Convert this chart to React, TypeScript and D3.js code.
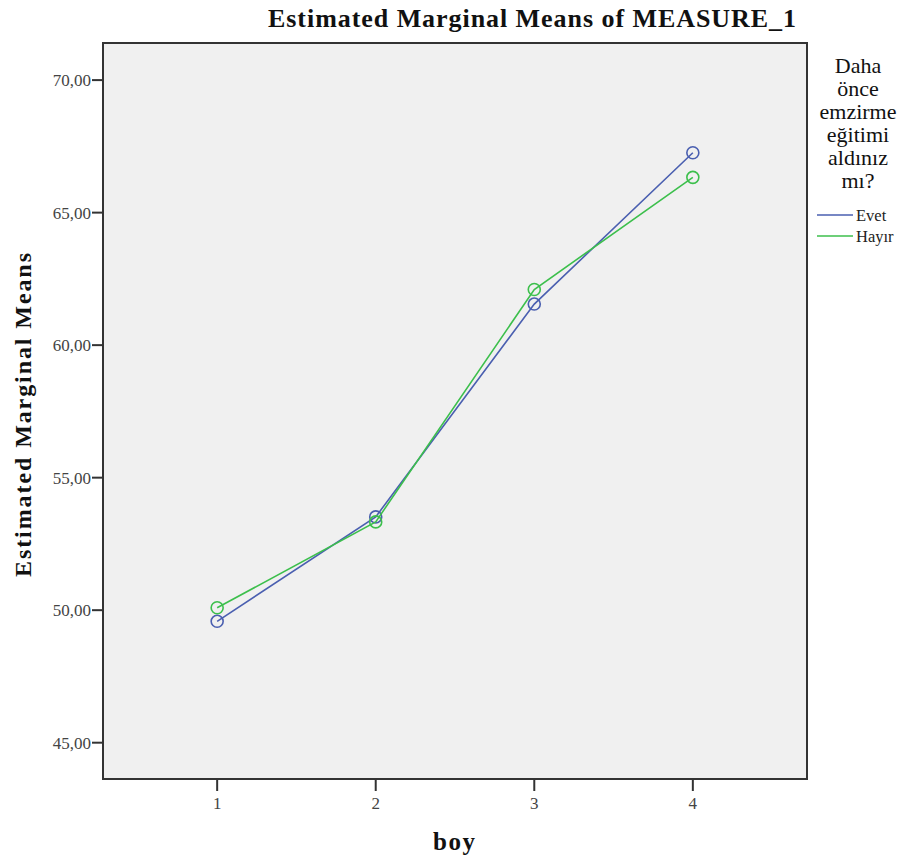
import React from "react";
import { scaleLinear, scalePoint, line } from "d3";

const categories = [1, 2, 3, 4];
const evet = [49.58, 53.52, 61.55, 67.26];
const hayir = [50.09, 53.33, 62.1, 66.33];
const yTicks = [45, 50, 55, 60, 65, 70];
const legendTitle = ["Daha", "önce", "emzirme", "eğitimi", "aldınız", "mı?"];

const series = [
  { name: "Evet", values: evet, color: "#4a5fb0" },
  { name: "Hayır", values: hayir, color: "#3cbf4c" },
];

const frame = { left: 103, right: 807, top: 43, bottom: 779 };
const font = "Liberation Serif, Times New Roman, DejaVu Serif, serif";

const App: React.FC = () => {
  // SPSS style frame, axes run a little past the ticks
  const y = scaleLinear().domain([43.63, 71.4]).range([frame.bottom, frame.top]);
  const x = scalePoint<number>()
    .domain(categories)
    .range([frame.left, frame.right])
    .padding(0.72);

  const path = line<number>()
    .x((_, i) => x(categories[i]) as number)
    .y((d) => y(d));

  const fmt = (v: number) => v.toFixed(2).replace(".", ",");

  return (
    <svg
      width={904}
      height={861}
      style={{ position: "absolute", left: 0, top: 0, background: "#fff", fontFamily: font }}
    >
      <text
        x={268}
        y={27}
        fontSize={26}
        fontWeight="bold"
        fill="#111"
        textLength={528}
        lengthAdjust="spacing"
      >
        Estimated Marginal Means of MEASURE_1
      </text>

      <rect
        x={frame.left}
        y={frame.top}
        width={frame.right - frame.left}
        height={frame.bottom - frame.top}
        fill="#f0f0f0"
        stroke="#333"
        strokeWidth={2}
      />

      {yTicks.map((t) => (
        <g key={`y-${t}`} transform={`translate(0, ${y(t)})`}>
          <line x1={frame.left - 11} x2={frame.left} stroke="#333" strokeWidth={2} />
          <text x={frame.left - 12} dy="0.35em" textAnchor="end" fontSize={17} fontWeight="normal" fill="#444">
            {fmt(t)}
          </text>
        </g>
      ))}

      {categories.map((c) => (
        <g key={`x-${c}`} transform={`translate(${x(c)}, 0)`}>
          <line y1={frame.bottom} y2={frame.bottom + 12} stroke="#333" strokeWidth={2} />
          <text y={809} textAnchor="middle" fontSize={17} fill="#444">
            {c}
          </text>
        </g>
      ))}

      <text
        transform="translate(31, 577) rotate(-90)"
        fontSize={24}
        fontWeight="bold"
        fill="#111"
        textLength={324}
        lengthAdjust="spacing"
      >
        Estimated Marginal Means
      </text>
      <text x={433} y={850} fontSize={25} fontWeight="bold" fill="#111" textLength={42} lengthAdjust="spacing">
        boy
      </text>

      {series.map((s) => (
        <g key={s.name}>
          <path d={path(s.values) ?? ""} fill="none" stroke={s.color} strokeWidth={1.6} />
          {s.values.map((v, i) => (
            <circle
              key={`${s.name}-${i}`}
              cx={x(categories[i])}
              cy={y(v)}
              r={6}
              fill="none"
              stroke={s.color}
              strokeWidth={1.6}
            />
          ))}
        </g>
      ))}

      <g>
        {legendTitle.map((l, i) => (
          <text key={l} x={858} y={73 + i * 23} textAnchor="middle" fontSize={22} fill="#111">
            {l}
          </text>
        ))}
        {series.map((s, i) => (
          <g key={`leg-${s.name}`} transform={`translate(0, ${215 + i * 21})`}>
            <line x1={817} x2={853} stroke={s.color} strokeWidth={1.6} />
            <text x={856} dy="0.35em" fontSize={16.5} fill="#222">
              {s.name}
            </text>
          </g>
        ))}
      </g>
    </svg>
  );
};

export default App;
